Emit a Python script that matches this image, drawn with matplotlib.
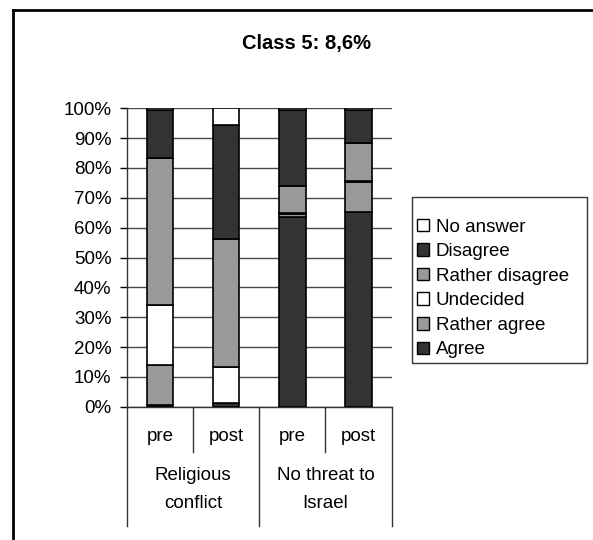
import numpy as np
import matplotlib
matplotlib.use('Agg')
import matplotlib.pyplot as plt
from matplotlib.patches import Patch, Rectangle
from matplotlib.lines import Line2D
import matplotlib.transforms as mtransforms

# ---------------------------------------------------------------------
# data (percent of answers per bar)

categories      = ['pre', 'post', 'pre', 'post']
groups          = ['Religious\nconflict', 'No threat to\nIsrael']

agree           = [0.6, 1.3, 63.7, 65.1]
rather_agree    = [13.4, 0.0, 0.8, 10.1]
undecided       = [20.1, 12.1, 0.5, 0.5]
rather_disagree = [49.3, 42.9, 9.0, 12.8]
disagree        = [15.9, 38.1, 25.3, 10.8]
no_answer       = [0.7, 5.6, 0.7, 0.7]

series_names    = ['Agree', 'Rather agree', 'Undecided', 'Rather disagree', 'Disagree', 'No answer']
series_values   = [agree, rather_agree, undecided, rather_disagree, disagree, no_answer]
series_colors   = ['#333333', '#999999', '#ffffff', '#999999', '#333333', '#ffffff']

title = 'Class 5: 8,6%'

# ---------------------------------------------------------------------

plt.rcParams['font.family'] = ['Liberation Sans', 'DejaVu Sans']
fs = 13.5

W, H = 593, 540
fig = plt.figure(figsize=(W/100, H/100), dpi=100)

ax = fig.add_axes([126.7/W, 1-406.7/H, (391.7-126.7)/W, (406.7-108.3)/H])

x = np.arange(len(categories)) + 0.5
bottom = np.zeros(len(categories))
for name, vals, col in zip(series_names, series_values, series_colors):
    vals = np.array(vals)
    ax.bar(x, vals, 0.4, bottom=bottom, color=col, edgecolor='black',
           linewidth=1.2, label=name, zorder=3)
    bottom += vals

ax.set_xlim(0, len(categories))
ax.set_ylim(0, 100)
ax.set_yticks(np.arange(0, 101, 10))
ax.set_yticklabels(['%d%%' % v for v in range(0, 101, 10)])
ax.yaxis.grid(True, color='#4a4a4a', linewidth=1, zorder=0)
ax.tick_params(axis='y', length=5, width=1, pad=6, labelsize=fs, direction='out')
ax.set_xticks([])

for s in ['top', 'right', 'bottom']:
    ax.spines[s].set_visible(False)
ax.spines['left'].set_linewidth(1)
ax.spines['left'].set_color('#333333')

# category axis with two label levels
trans = mtransforms.blended_transform_factory(ax.transData, ax.transAxes)
ax.plot([0, len(categories)], [0, 0], color='#333333', lw=1, transform=trans, clip_on=False)
for i in range(len(categories) + 1):
    low = -0.40 if i % 2 == 0 else -0.152
    ax.plot([i, i], [0, low], color='#333333', lw=1, transform=trans, clip_on=False)
for xi, lab in zip(x, categories):
    ax.text(xi, -0.101, lab, ha='center', va='center', fontsize=fs, transform=trans)
for gi, lab in enumerate(groups):
    ax.text(2*gi + 1, -0.279, lab, ha='center', va='center', fontsize=fs,
            linespacing=1.85, transform=trans)

fig.text(306.8/W, 1-43/H, title, ha='center', va='center', fontsize=14.5, fontweight='bold')

# legend (reversed stack order), box drawn separately
fig.add_artist(Rectangle((412/W, 1-363/H), (587-412)/W, (363-197)/H,
                         transform=fig.transFigure, facecolor='white',
                         edgecolor='#333333', linewidth=1, zorder=1))
handles = [Patch(facecolor=c, edgecolor='black', linewidth=1)
           for c in series_colors[::-1]]
leg = fig.legend(handles, series_names[::-1], loc='upper left',
                 bbox_to_anchor=(417/W, 1-218.5/H), frameon=False,
                 fontsize=fs, handlelength=0.65, handleheight=0.65,
                 handletextpad=0.35, labelspacing=0.405, borderpad=0,
                 borderaxespad=0)
leg.set_zorder(2)

# outer chart frame
fig.add_artist(Line2D([13/W, 1], [1-10/H, 1-10/H], color='black', lw=2))
fig.add_artist(Line2D([13/W, 13/W], [0, 1-10/H], color='black', lw=2))

fig.savefig('out.png', dpi=100)
